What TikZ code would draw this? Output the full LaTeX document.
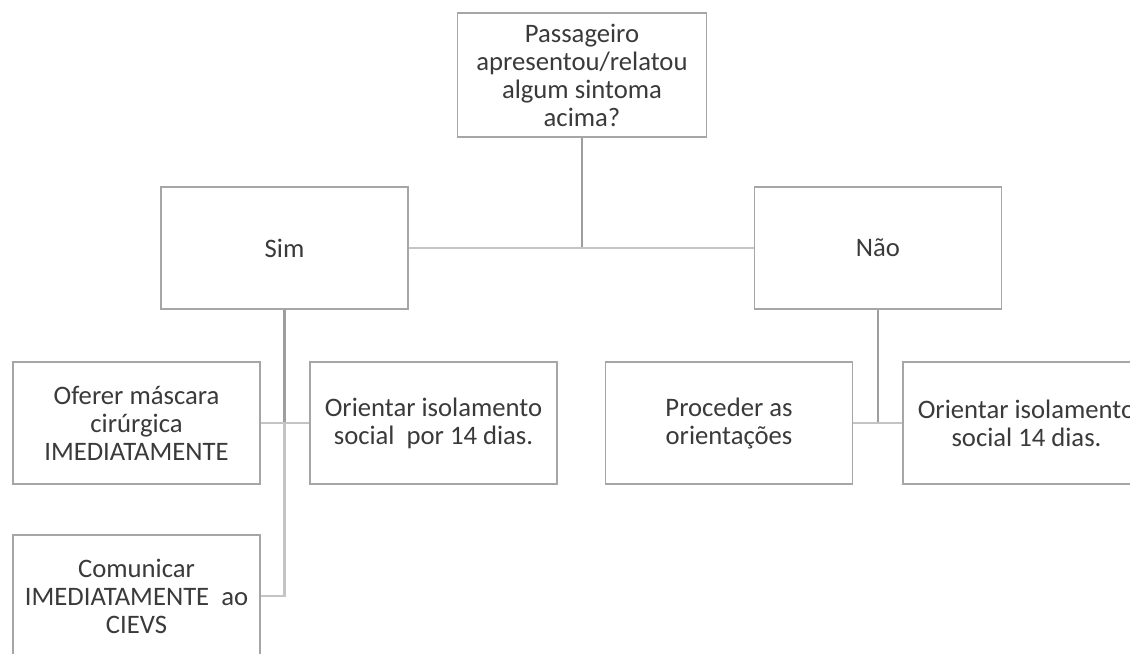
\documentclass[tikz,border=0pt]{standalone}
\usepackage{fontspec}
\setmainfont{Carlito}
\usetikzlibrary{calc}

\definecolor{boxgray}{HTML}{A6A6A6}
\definecolor{trunkgray}{HTML}{9E9E9E}
\definecolor{branchgray}{HTML}{C4C4C4}
\definecolor{txtgray}{HTML}{3A3A3A}

\begin{document}
\begin{tikzpicture}[x = 0.75pt, y = -0.75pt,
    box/.style = {draw = boxgray, line width = 1.1pt, fill = white, minimum width = 185.25pt, minimum height = 91.5pt, align = center, text = txtgray, font = \fontsize{20}{21}\selectfont},
    trunk/.style = {draw = trunkgray, line width = 2.2pt},
    branch/.style = {draw = branchgray, line width = 2pt}]

    \clip (0, 0) rectangle (1130, 653);

% Nodes
    \node[box, minimum width = 186.75pt, minimum height = 93pt] (Q) at (582, 75) {Passageiro\\apresentou/relatou\\algum sintoma\\acima?};
    \node[box] (S) at (284.5, 248) {Sim};
    \node[box] (N) at (878, 248) {Não};
    \node[box] (O1) at (136.5, 423) {Oferer máscara\\cirúrgica\\IMEDIATAMENTE};
    \node[box] (O2) at (433.5, 423) {Orientar isolamento\\social\ \ por 14 dias.};
    \node[box] (C) at (136.5, 596) {Comunicar\\IMEDIATAMENTE\ \ ao\\CIEVS};
    \node[box] (P) at (729, 423) {Proceder as\\orientações};
    \node[box] (O3) at (1026.5, 423) {Orientar isolamento\\social 14 dias.};

% Connectors
    \draw[trunk] (Q.south) -- (Q.south |- S.east);
    \draw[branch] (S.east) -- (N.west);
    \draw[trunk] (S.south) -- (S.south |- O1.east);
    \draw[branch] (O1.east) -- (O2.west);
    \draw[branch] (S.south |- O1.east) |- (C.east);
    \draw[trunk] (N.south) -- (N.south |- P.east);
    \draw[branch] (P.east) -- (O3.west);

\end{tikzpicture}
\end{document}
